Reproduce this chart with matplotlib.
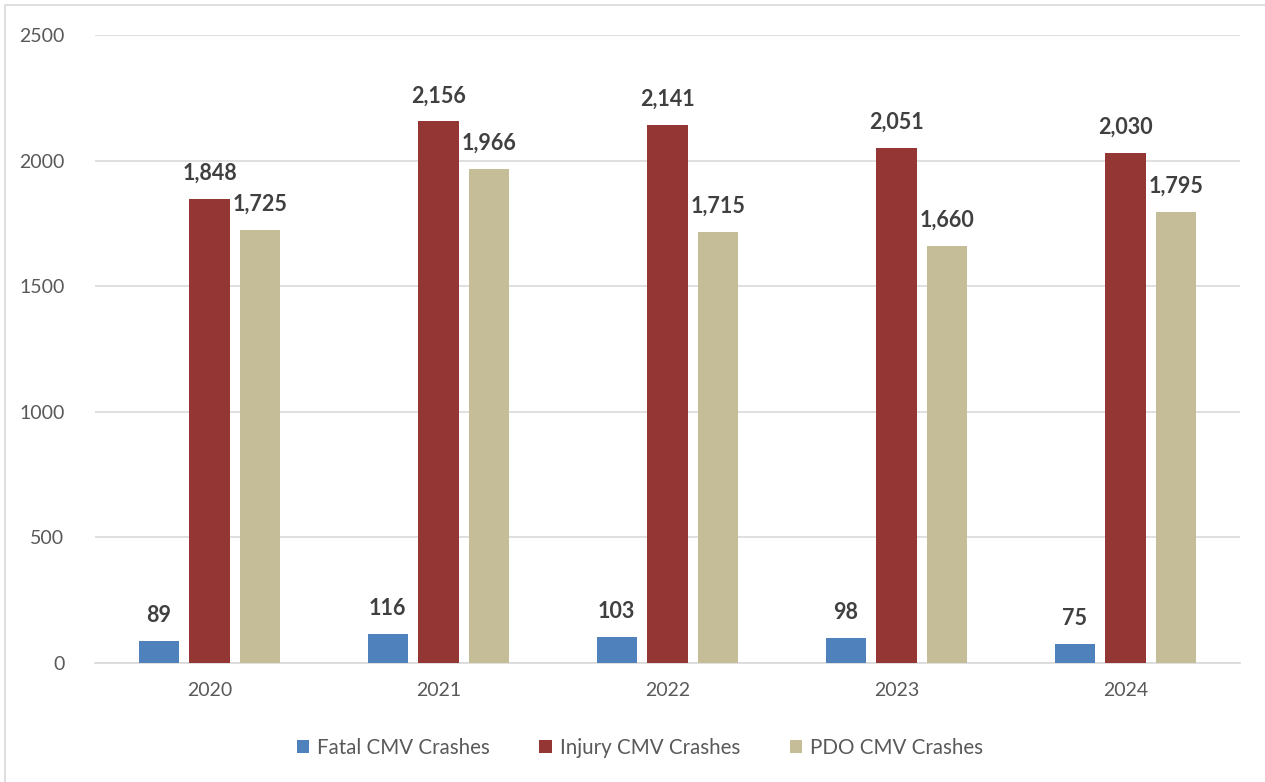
import matplotlib
matplotlib.use("Agg")
import matplotlib.pyplot as plt
import numpy as np
from matplotlib.patches import Rectangle

years = ["2020", "2021", "2022", "2023", "2024"]
fatal = [89, 116, 103, 98, 75]
injury = [1848, 2156, 2141, 2051, 2030]
pdo = [1725, 1966, 1715, 1660, 1795]
series_names = ["Fatal CMV Crashes", "Injury CMV Crashes", "PDO CMV Crashes"]
colors = ["#4F81BD", "#943634", "#C4BD97"]

plt.rcParams["font.family"] = ["Lato", "DejaVu Sans"]

fig = plt.figure(figsize=(12.65, 7.82), dpi=100)
ax = fig.add_axes([95 / 1265, 1 - 663 / 782, 1145 / 1265, 628 / 782])

x = np.arange(len(years))
width = 0.175
offset = 0.222
for i, (vals, name, col) in enumerate(zip([fatal, injury, pdo], series_names, colors)):
    pos = x + (i - 1) * offset
    bars = ax.bar(pos, vals, width, color=col, label=name, zorder=3)
    for b, v in zip(bars, vals):
        ax.text(b.get_x() + b.get_width() / 2, v + 60, f"{v:,}",
                ha="center", va="bottom", fontsize=15.5, fontweight="bold",
                color="#404040", zorder=4)

ax.set_xlim(-0.5, 4.5)
ax.set_ylim(0, 2500)
ax.set_yticks(range(0, 2501, 500))
ax.set_xticks(x)
ax.set_xticklabels(years)
ax.grid(axis="y", color="#D9D9D9", linewidth=1.2, zorder=0)
for s in ["top", "right", "left"]:
    ax.spines[s].set_visible(False)
ax.spines["bottom"].set_color("#D9D9D9")
ax.spines["bottom"].set_linewidth(1.2)
ax.tick_params(axis="both", length=0, labelsize=14, colors="#595959", pad=14)
ax.tick_params(axis="y", pad=22)

ax.legend(loc="center", bbox_to_anchor=(640 / 1265, 1 - 748 / 782),
          bbox_transform=fig.transFigure, ncol=3, frameon=False,
          fontsize=14.8, labelcolor="#595959", handlelength=0.6,
          handleheight=0.6, columnspacing=2.4, handletextpad=0.4)

fig.patches.append(Rectangle((5 / 1265, -0.1), 1.1, 1.1 - 5 / 782, transform=fig.transFigure,
                             fill=False, edgecolor="#D9D9D9", linewidth=1.2))

fig.savefig("out.png", dpi=100, facecolor="white")
